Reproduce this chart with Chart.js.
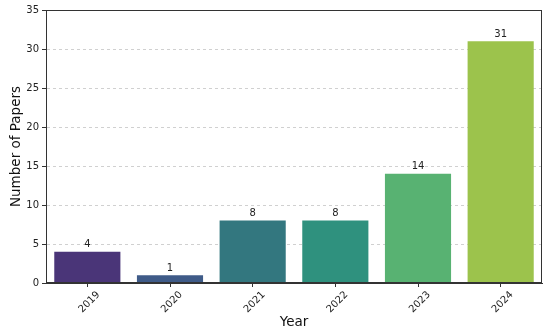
<!DOCTYPE html>
<html><head><meta charset="utf-8">
<script src="https://cdn.jsdelivr.net/npm/chart.js@4"></script>
<style>html,body{margin:0;padding:0;background:#fff}#wrap{width:550px;height:333px}</style>
</head><body><div id="wrap"><canvas id="c"></canvas></div>
<script>
const years = ["2019","2020","2021","2022","2023","2024"];
const papers = [4, 1, 8, 8, 14, 31];
const barColors = ["#4a3578","#3f5b88","#33777f","#2f917e","#58b272","#9cc34c"];
const yTicks = [0,5,10,15,20,25,30,35];

const FONT = "'DejaVu Sans', sans-serif";

const labelPlugin = {
  id: 'labels',
  afterDatasetsDraw(chart) {
    const ctx = chart.ctx;
    const meta = chart.getDatasetMeta(0);
    ctx.save();
    ctx.font = "10px " + FONT;
    ctx.fillStyle = "#222";
    ctx.textAlign = "center";
    ctx.textBaseline = "bottom";
    meta.data.forEach((el, i) => {
      ctx.fillText(String(papers[i]), el.x, el.y - 2);
    });
    ctx.restore();
  }
};
const framePlugin = {
  id: 'frame',
  afterDraw(chart) {
    const a = chart.chartArea, ctx = chart.ctx;
    ctx.save();
    ctx.strokeStyle = "#333";
    ctx.lineWidth = 1;
    ctx.strokeRect(Math.round(a.left)+0.5, Math.round(a.top)+0.5, Math.round(a.right-a.left)-1, Math.round(a.bottom-a.top)-1);
    ctx.restore();
  }
};

new Chart(document.getElementById('c'), {
  type: 'bar',
  data: { labels: years, datasets: [{ data: papers, backgroundColor: barColors, borderWidth: 0, categoryPercentage: 0.8, barPercentage: 1.0 }] },
  options: {
    responsive: true, maintainAspectRatio: false, animation: false,
    layout: { padding: { top: 10, right: 8, left: 0, bottom: 0 } },
    plugins: { legend: { display: false }, tooltip: { enabled: false } },
    scales: {
      x: {
        grid: { display: true, offset: false, drawOnChartArea: false, tickLength: 4, tickColor: "#333" },
        border: { display: true, color: "#333" },
        ticks: { color: "#222", font: { family: FONT, size: 10 }, minRotation: 45, maxRotation: 45, padding: 2, labelOffset: 11 },
        title: { display: true, text: "Year", color: "#111", font: { family: FONT, size: 13.5 }, padding: { top: 0, bottom: 2 } },
        afterFit(s) { s.height = 50; }
      },
      y: {
        min: 0, max: 35, z: 1,
        afterBuildTicks(s) { s.ticks = yTicks.map(v => ({ value: v })); },
        grid: {
          color: c => (c.tick && (c.tick.value === 0 || c.tick.value === 35)) ? "rgba(0,0,0,0)" : "rgba(170,170,170,0.55)",
          tickColor: "#333", tickLength: 4, lineWidth: 1
        },
        border: { display: true, color: "#333", dash: [3, 3] },
        ticks: { color: "#222", font: { family: FONT, size: 10 }, padding: 3 },
        title: { display: true, text: "Number of Papers", color: "#111", font: { family: FONT, size: 13.5 }, padding: { top: 8, bottom: 4 } },
        afterFit(s) { s.width = 46; }
      }
    }
  },
  plugins: [labelPlugin, framePlugin]
});
</script></body></html>
